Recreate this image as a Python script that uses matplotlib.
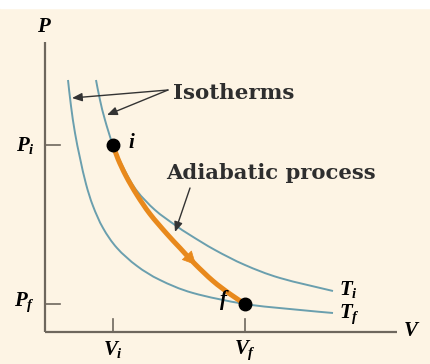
import matplotlib
matplotlib.use("Agg")
import matplotlib.pyplot as plt
from matplotlib.path import Path
from matplotlib.patches import PathPatch, FancyArrowPatch

plt.rcParams['mathtext.fontset'] = 'custom'
plt.rcParams['mathtext.rm'] = 'Liberation Serif:bold'
plt.rcParams['mathtext.it'] = 'Liberation Serif:bold:italic'
plt.rcParams['mathtext.bf'] = 'Liberation Serif:bold'

# State values (arbitrary units)
V_i, V_f = 68, 200
P_i, P_f = 187, 28

# Isotherm T_i (read points)
Ti_V = [51, 55, 60, 68, 80, 92, 110, 130, 145, 170, 200, 235, 288]
Ti_P = [252, 232, 212, 187, 161, 141, 122, 107, 97, 82, 67, 54, 41]
# Isotherm T_f (read points)
Tf_V = [23, 26, 30, 35, 41, 48, 58, 72, 92, 115, 148, 200, 250, 288]
Tf_P = [252, 226, 199, 174, 148, 126, 104, 84, 66, 52, 39, 28, 22.5, 19]
# Adiabatic process (read points)
Ad_V = [68, 73, 81, 92, 105, 122, 135, 150, 168, 185, 200]
Ad_P = [187, 173, 156, 137, 118, 98, 84, 68, 51, 38, 28]

bg = '#fdf4e4'
iso_c = '#6a9fae'
orange = '#e8891c'
axc = '#6e675d'


def smooth_path(xs, ys):
    pts = list(zip(xs, ys))
    n = len(pts)
    verts = [pts[0]]
    codes = [Path.MOVETO]
    for k in range(n - 1):
        p0 = pts[k - 1] if k > 0 else pts[k]
        p1 = pts[k]
        p2 = pts[k + 1]
        p3 = pts[k + 2] if k + 2 < n else pts[k + 1]
        c1 = (p1[0] + (p2[0] - p0[0]) / 6, p1[1] + (p2[1] - p0[1]) / 6)
        c2 = (p2[0] - (p3[0] - p1[0]) / 6, p2[1] - (p3[1] - p1[1]) / 6)
        verts += [c1, c2, p2]
        codes += [Path.CURVE4] * 3
    return Path(verts, codes)


fig = plt.figure(figsize=(4.3, 3.64), dpi=100, facecolor=bg)
ax = fig.add_axes([0, 0, 1, 1])
ax.set_facecolor(bg)
ax.set_xlim(-45, 385)
ax.set_ylim(-32, 332)
ax.axis('off')
ax.axhspan(324, 340, color='white', zorder=0)

# axes lines
ax.plot([0, 0], [0, 290], color=axc, lw=1.6, solid_capstyle='butt')
ax.plot([0, 352], [0, 0], color=axc, lw=1.6, solid_capstyle='butt')
# ticks
ax.plot([0, 15], [P_i, P_i], color=axc, lw=1.2)
ax.plot([0, 15], [P_f, P_f], color=axc, lw=1.2)
ax.plot([V_i, V_i], [0, 13], color=axc, lw=1.2)
ax.plot([V_f, V_f], [0, 13], color=axc, lw=1.2)

# curves
ax.add_patch(PathPatch(smooth_path(Ti_V, Ti_P), fill=False, edgecolor=iso_c, lw=1.4))
ax.add_patch(PathPatch(smooth_path(Tf_V, Tf_P), fill=False, edgecolor=iso_c, lw=1.4))
ax.add_patch(PathPatch(smooth_path(Ad_V, Ad_P), fill=False, edgecolor=orange, lw=3.6,
                       capstyle='round', zorder=3))
# direction arrow on adiabat
ax.add_patch(FancyArrowPatch((Ad_V[6], Ad_P[6]), (Ad_V[7] + 1, Ad_P[7] - 1),
                             arrowstyle='-|>,head_length=9,head_width=4.5',
                             color=orange, lw=0.5, shrinkA=0, shrinkB=0, zorder=3,
                             mutation_scale=1))

ax.plot([V_i, V_f], [P_i, P_f], 'o', color='black', ms=9, zorder=5)

# labels
fs = 15
ax.text(-1, 296, '$P$', ha='center', va='bottom', fontsize=fs)
ax.text(358, 2, '$V$', ha='left', va='center', fontsize=fs)
ax.text(-10, P_i, '$P_i$', ha='right', va='center', fontsize=fs)
ax.text(-10, P_f + 2, '$P_f$', ha='right', va='center', fontsize=fs)
ax.text(V_i, -7, '$V_i$', ha='center', va='top', fontsize=fs)
ax.text(V_f, -7, '$V_f$', ha='center', va='top', fontsize=fs)
ax.text(V_i + 15, P_i + 3, '$i$', ha='left', va='center', fontsize=fs)
ax.text(V_f - 15, P_f + 4, '$f$', ha='right', va='center', fontsize=fs)
ax.text(Ti_V[-1] + 6, Ti_P[-1] + 1, '$T_i$', ha='left', va='center', fontsize=fs)
ax.text(Tf_V[-1] + 6, Tf_P[-1] - 1, '$T_f$', ha='left', va='center', fontsize=fs)

ax.text(128, 239, 'Isotherms', ha='left', va='center', fontsize=15.4,
        family='DejaVu Serif', fontweight='bold', color='#2e2e2e')
ax.text(121, 159, 'Adiabatic process', ha='left', va='center', fontsize=15.2,
        family='DejaVu Serif', fontweight='bold', color='#2e2e2e')

arw = dict(arrowstyle='-|>,head_length=0.6,head_width=0.25', color='#333333',
           lw=1.0, shrinkA=0, shrinkB=0)
ax.annotate('', xy=(27, 234), xytext=(123, 242), arrowprops=arw)
ax.annotate('', xy=(62, 217), xytext=(123, 242), arrowprops=arw)
ax.annotate('', xy=(130, 100), xytext=(145, 144), arrowprops=arw)

fig.savefig('out.png', dpi=100, facecolor=bg)
